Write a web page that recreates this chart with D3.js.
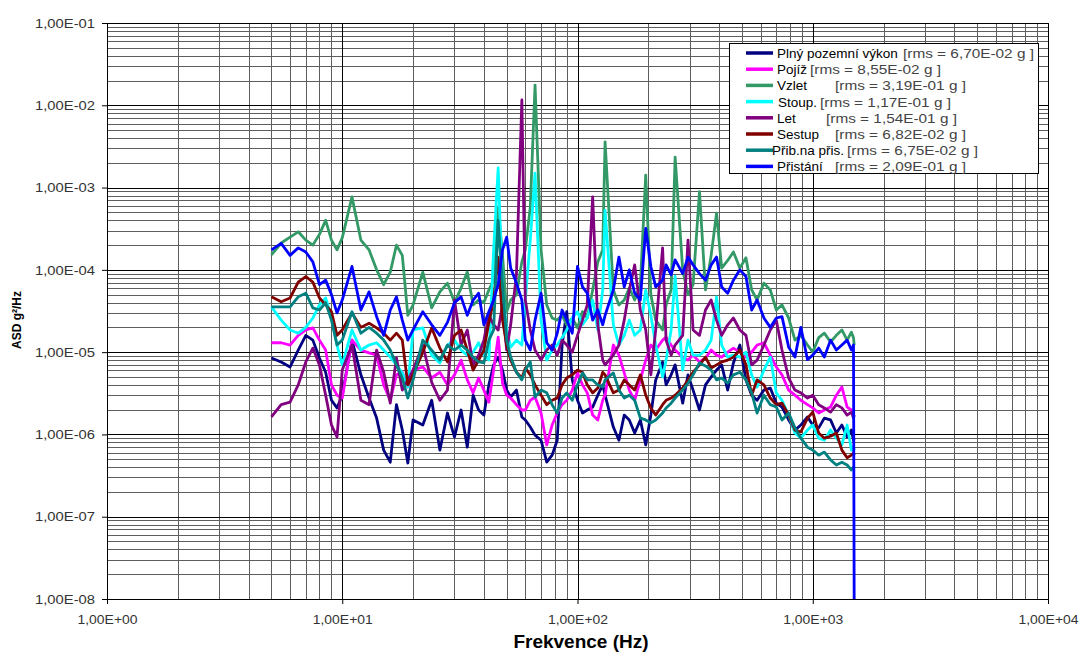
<!DOCTYPE html>
<html>
<head>
<meta charset="utf-8">
<script src="https://cdn.jsdelivr.net/npm/d3@7"></script>
<style>
  body { margin: 0; background: #fff; }
  svg { display: block; }
</style>
</head>
<body>
<svg id="chart" width="1082" height="653"></svg>
<script>
// Frequency points (Hz), shared by every flight phase
const frequencies = [5,5.5,6,6.5,7,7.5,8,8.5,9,9.5,
  10,11,12,13,14,15,16,17,18,19,
  20,22,24,26,28,30,32,34,36,38,
  40,42,44,46,48,50,52,55,58,60,
  63,66,70,74,78,82,86,90,95,100,
  105,110,116,122,128,131,142,150,158,166,
  175,185,195,205,215,230,238,250,260,280,
  295,310,330,350,370,390,410,435,460,490,
  520,550,580,620,660,700,740,790,840,890,
  950,1000,1060,1120,1190,1260,1330,1400,1460,1490,
  1500];

// ASD values (g^2/Hz) per flight phase
const plnyPozemniVykon = [8.5e-6,7.6e-6,6.6e-6,1.06e-5,1.6e-5,1.4e-5,8.5e-6,5.7e-6,2.6e-6,2.1e-6,
  3.0e-6,1.4e-5,5.3e-6,2.77e-6,1.58e-6,6.45e-7,4.6e-7,2.3e-6,1.13e-6,4.5e-7,
  1.5e-6,1.3e-6,2.6e-6,6.45e-7,1.82e-6,9.3e-7,1.98e-6,7.0e-7,3.0e-6,1.98e-6,
  1.72e-6,4.0e-6,7.0e-6,8.7e-6,6.05e-6,3.46e-6,2.85e-6,3.46e-6,1.63e-6,1.5e-6,
  1.23e-6,9.8e-7,8.5e-7,4.6e-7,5.6e-7,8.5e-7,1.22e-5,3.1e-5,4.6e-6,2.6e-6,
  1.82e-6,1.98e-6,2.15e-6,3.0e-6,4.0e-6,3.0e-6,1.23e-6,8.5e-7,1.72e-6,1.5e-6,
  1.04e-6,1.5e-6,7.45e-7,1.72e-6,4.6e-6,7.6e-6,4.0e-6,5.3e-6,7.0e-6,2.4e-6,
  5.3e-6,3.46e-6,1.98e-6,4.0e-6,5.0e-6,6.05e-6,7.0e-6,3.46e-6,7.4e-6,1.22e-5,
  4.6e-6,3.0e-6,2.6e-6,3.46e-6,3.66e-6,2.4e-6,2.15e-6,1.5e-6,1.13e-6,1.3e-6,
  1.63e-6,1.3e-6,1.2e-6,1.58e-6,1.5e-6,1.04e-6,1.3e-6,9.3e-7,1.13e-6,8.5e-7,
  9.0e-7];

const pojiz = [1.3e-5,1.3e-5,1.22e-5,1.6e-5,1.86e-5,1.97e-5,1.4e-5,1.06e-5,4.0e-6,3.0e-6,
  2.77e-6,1.4e-5,1.06e-5,9.8e-6,9.2e-6,4.0e-6,2.6e-6,5.3e-6,5.7e-6,3.77e-6,
  6.05e-6,6.6e-6,4.85e-6,5.7e-6,4.0e-6,5.3e-6,8.0e-6,4.6e-6,3.2e-6,4.85e-6,
  3.46e-6,2.47e-6,6.05e-6,1.52e-5,4.2e-6,3.0e-6,2.77e-6,2.3e-6,1.98e-6,1.98e-6,
  2.6e-6,2.85e-6,1.82e-6,7.45e-7,1.3e-6,1.82e-6,2.3e-6,2.6e-6,3.46e-6,5.6e-6,
  4.0e-6,3.2e-6,1.72e-6,1.5e-6,2.6e-6,3.0e-6,1.22e-5,9.2e-6,5.6e-6,3.46e-6,
  2.6e-6,4.6e-6,8.0e-6,1.22e-5,1.06e-5,1.4e-5,1.52e-5,1.22e-5,1.06e-5,8.7e-6,
  8.0e-6,9.2e-6,7.6e-6,8.5e-6,1.06e-5,9.2e-6,8.7e-6,1.0e-5,1.12e-5,1.0e-5,
  8.7e-6,1.0e-5,1.22e-5,1.3e-5,9.2e-6,6.6e-6,5.3e-6,3.46e-6,3.0e-6,2.6e-6,
  2.3e-6,2.1e-6,1.82e-6,1.98e-6,2.15e-6,3.0e-6,3.77e-6,2.15e-6,1.98e-6,1.82e-6,
  1.87e-6];

const vzlet = [1.52e-4,2.12e-4,2.5e-4,2.9e-4,2.3e-4,2.0e-4,2.7e-4,4.0e-4,2.3e-4,1.75e-4,
  2.45e-4,7.7e-4,2.3e-4,1.75e-4,1.0e-4,6.6e-5,9.4e-5,2.0e-4,1.5e-4,2.8e-5,
  3.75e-5,9.4e-5,3.45e-5,5.4e-5,6.9e-5,4.0e-5,6.0e-5,9.4e-5,3.75e-5,4.3e-5,
  4.0e-5,5.7e-5,7.5e-5,5.8e-4,1.5e-4,3.1e-5,4.3e-5,5.0e-5,1.25e-4,1.75e-4,
  5.8e-4,1.76e-2,1.75e-4,3.75e-5,2.6e-5,2.45e-5,2.8e-5,2.15e-5,2.6e-5,1.97e-5,
  3.1e-5,2.6e-5,5.7e-5,1.25e-4,1.75e-4,3.6e-3,5.7e-5,3.75e-5,4.3e-5,6.0e-5,
  4.3e-5,6.6e-5,1.42e-3,5.0e-5,2.45e-5,1.86e-5,3.75e-5,5.7e-5,2.35e-3,1.0e-4,
  5.0e-5,6.6e-5,8.9e-4,5.7e-5,1.5e-4,4.9e-4,1.05e-4,1.3e-4,1.65e-4,1.05e-4,
  1.4e-4,5.7e-5,4.3e-5,6.9e-5,5.7e-5,3.25e-5,3.75e-5,2.6e-5,1.4e-5,1.6e-5,
  1.22e-5,1.0e-5,1.5e-5,1.7e-5,1.33e-5,1.6e-5,1.86e-5,1.4e-5,1.75e-5,1.5e-5,
  1.22e-5];

const stoup = [3.55e-5,2.45e-5,1.86e-5,1.7e-5,2.0e-5,2.6e-5,3.75e-5,4.55e-5,2.6e-5,1.22e-5,
  7.0e-6,1.86e-5,1.06e-5,1.22e-5,1.3e-5,1.06e-5,8.7e-6,7.0e-6,5.6e-6,3.77e-6,
  1.86e-5,1.97e-5,9.2e-6,7.4e-6,1.22e-5,1.4e-5,1.06e-5,9.2e-6,1.0e-5,1.3e-5,
  9.2e-6,8.0e-6,1.75e-4,1.73e-3,5.7e-5,1.86e-5,1.15e-5,1.4e-5,1.22e-5,4.3e-5,
  2.3e-4,1.5e-3,2.45e-5,8.0e-6,1.06e-5,1.22e-5,1.5e-5,1.86e-5,2.6e-5,3.1e-5,
  2.15e-5,2.6e-5,4.3e-5,1.86e-5,5.7e-5,5.3e-4,2.15e-5,1.22e-5,1.6e-5,2.45e-5,
  1.6e-5,1.86e-5,5.7e-5,2.8e-5,1.22e-5,5.0e-6,8.0e-6,1.86e-5,8.3e-5,6.05e-6,
  1.4e-5,9.2e-6,9.2e-6,1.06e-5,1.4e-5,4.7e-5,1.22e-5,8.7e-6,9.2e-6,8.7e-6,
  1.0e-5,5.3e-6,3.77e-6,6.05e-6,8.7e-6,3.2e-6,2.6e-6,1.72e-6,1.04e-6,9.0e-7,
  1.13e-6,1.3e-6,9.0e-7,8.5e-7,1.13e-6,9.0e-7,7.45e-7,1.3e-6,6.45e-7,7.0e-7,
  6.45e-7];

const letPhase = [1.63e-6,2.3e-6,2.47e-6,4.0e-6,7.6e-6,1.12e-5,7.0e-6,3.0e-6,1.3e-6,9.3e-7,
  6.05e-6,1.22e-5,2.6e-6,2.3e-6,1.06e-5,5.7e-6,2.4e-6,8.5e-6,3.46e-6,4.6e-6,
  6.05e-6,1.22e-5,4.3e-6,2.6e-6,3.46e-6,4.3e-5,1.22e-5,1.86e-5,7.0e-6,9.2e-6,
  1.4e-5,2.8e-5,2.15e-5,1.86e-5,3.75e-5,1.06e-5,2.15e-5,8.7e-5,1.16e-2,4.3e-5,
  1.86e-5,1.06e-5,8.0e-6,1.06e-5,1.22e-5,9.2e-6,1.4e-5,1.22e-5,1.0e-5,1.6e-5,
  2.45e-5,3.75e-5,7.7e-4,2.15e-5,8.0e-6,7.0e-6,9.2e-6,1.22e-5,2.45e-5,5.7e-5,
  1.15e-4,3.25e-5,1.86e-5,5.3e-6,1.86e-5,1.85e-4,1.4e-5,9.2e-6,1.22e-5,1.6e-5,
  2.3e-4,1.86e-5,1.6e-5,3.25e-5,4.3e-5,2.45e-5,1.6e-5,2.15e-5,2.6e-5,1.86e-5,
  1.6e-5,7.0e-6,8.0e-6,1.22e-5,1.86e-5,2.45e-5,1.06e-5,4.85e-6,3.46e-6,3.2e-6,
  2.77e-6,3.0e-6,2.3e-6,2.1e-6,1.87e-6,2.3e-6,2.1e-6,1.72e-6,1.87e-6,1.58e-6,
  1.72e-6];

const sestup = [4.7e-5,4.1e-5,4.55e-5,7.1e-5,8.3e-5,7.1e-5,4.55e-5,3.75e-5,3.1e-5,1.6e-5,
  1.86e-5,3.0e-5,2.0e-5,2.25e-5,1.97e-5,1.7e-5,1.4e-5,1.7e-5,1.4e-5,4.0e-6,
  5.3e-6,1.0e-5,1.97e-5,1.12e-5,7.6e-6,1.6e-5,1.86e-5,1.06e-5,6.05e-6,8.0e-6,
  1.06e-5,2.3e-5,4.3e-5,1.43e-4,2.45e-5,1.22e-5,8.0e-6,5.7e-6,4.85e-6,6.4e-6,
  5.3e-6,4.0e-6,3.0e-6,2.3e-6,2.6e-6,2.77e-6,4.0e-6,4.85e-6,5.3e-6,6.05e-6,
  5.7e-6,4.0e-6,3.2e-6,3.66e-6,5.7e-6,5.3e-6,3.2e-6,3.46e-6,4.6e-6,4.0e-6,
  3.46e-6,5.3e-6,3.0e-6,2.1e-6,1.72e-6,2.3e-6,2.6e-6,2.77e-6,3.0e-6,3.66e-6,
  4.6e-6,5.7e-6,7.0e-6,8.7e-6,6.4e-6,7.0e-6,7.6e-6,8.0e-6,8.7e-6,1.06e-5,
  7.0e-6,3.0e-6,4.6e-6,4.0e-6,2.77e-6,2.3e-6,2.4e-6,1.72e-6,1.13e-6,1.07e-6,
  1.58e-6,1.87e-6,1.04e-6,9.0e-7,9.5e-7,1.04e-6,6.45e-7,5.2e-7,5.6e-7,5.95e-7,
  5.6e-7];

const pribNaPris = [3.55e-5,3.55e-5,3.55e-5,4.7e-5,5.2e-5,3.45e-5,3.25e-5,4.0e-5,2.45e-5,1.22e-5,
  1.4e-5,3.1e-5,1.7e-5,2.0e-5,1.7e-5,1.4e-5,1.06e-5,7.0e-6,4.85e-6,2.77e-6,
  4.6e-6,1.4e-5,1.06e-5,8.0e-6,1.22e-5,1.06e-5,1.22e-5,1.06e-5,8.7e-6,7.6e-6,
  7.4e-6,1.4e-5,1.86e-5,4.0e-4,6.6e-5,1.4e-5,8.7e-6,5.7e-6,4.6e-6,6.05e-6,
  7.6e-6,2.85e-6,3.46e-6,3.2e-6,2.3e-6,1.82e-6,2.77e-6,3.2e-6,2.6e-6,4.0e-6,
  5.6e-6,4.6e-6,4.6e-6,4.0e-6,3.77e-6,4.6e-6,5.6e-6,3.46e-6,2.77e-6,3.0e-6,
  2.6e-6,1.58e-6,1.5e-6,1.38e-6,1.5e-6,1.82e-6,2.1e-6,2.4e-6,2.77e-6,3.46e-6,
  4.2e-6,5.3e-6,7.4e-6,6.8e-6,6.05e-6,4.6e-6,4.85e-6,4.2e-6,5.3e-6,5.7e-6,
  4.6e-6,3.2e-6,1.82e-6,3.0e-6,2.3e-6,2.15e-6,1.5e-6,1.82e-6,1.2e-6,9.0e-7,
  7.0e-7,6.45e-7,5.6e-7,6.1e-7,4.9e-7,4.25e-7,4.6e-7,4.25e-7,3.7e-7,4.0e-7,
  3.9e-7];

const pristani = [1.75e-4,2.1e-4,1.5e-4,1.85e-4,1.65e-4,1.25e-4,6.6e-5,7.5e-5,5.0e-5,3.0e-5,
  4.3e-5,1.1e-4,3.25e-5,5.4e-5,2.7e-5,1.6e-5,3.25e-5,4.7e-5,2.45e-5,1.4e-5,
  1.86e-5,3.1e-5,2.15e-5,1.6e-5,2.3e-5,4.0e-5,4.7e-5,2.8e-5,4.3e-5,5.2e-5,
  2.15e-5,3.1e-5,4.3e-5,6.6e-5,1.75e-4,2.5e-4,1.05e-4,6.9e-5,4.3e-5,1.4e-5,
  1.06e-5,2.45e-5,5.2e-5,1.3e-5,1.06e-5,1.7e-5,3.25e-5,2.45e-5,1.7e-5,1.1e-4,
  6.2e-5,5.2e-5,2.45e-5,3.25e-5,2.15e-5,2.8e-5,5.7e-5,1.43e-4,6.2e-5,1.0e-4,
  5.2e-5,4.3e-5,3.2e-4,1.1e-4,6.2e-5,7.5e-5,1.15e-4,8.7e-5,1.32e-4,9.0e-5,
  1.43e-4,1.15e-4,9.0e-5,7.5e-5,1.15e-4,1.43e-4,6.2e-5,5.2e-5,7.5e-5,1.0e-4,
  8.3e-5,3.25e-5,4.3e-5,2.6e-5,2.0e-5,2.6e-5,2.7e-5,1.15e-5,8.7e-6,2.0e-5,
  8.1e-6,9.2e-6,1.12e-5,8.7e-6,1.4e-5,1.06e-5,1.22e-5,1.4e-5,1.06e-5,1.22e-5,
  1.0e-8];

const seriesNames = ["Plný pozemní výkon", "Pojíž", "Vzlet", "Stoup.", "Let", "Sestup", "Přib.na přis.", "Přistání"];
const rmsLabels = ["[rms =  6,70E-02 g ]", "[rms = 8,55E-02 g ]", "[rms = 3,19E-01 g ]", "[rms = 1,17E-01 g ]",
                   "[rms = 1,54E-01 g ]", "[rms = 6,82E-02 g ]", "[rms = 6,75E-02 g ]", "[rms = 2,09E-01 g ]"];
const seriesValues = [plnyPozemniVykon, pojiz, vzlet, stoup, letPhase, sestup, pribNaPris, pristani];

const xTickValues = [1, 10, 100, 1000, 10000];
const xTickLabels = ["1,00E+00", "1,00E+01", "1,00E+02", "1,00E+03", "1,00E+04"];
const yTickValues = [1e-1, 1e-2, 1e-3, 1e-4, 1e-5, 1e-6, 1e-7, 1e-8];
const yTickLabels = ["1,00E-01", "1,00E-02", "1,00E-03", "1,00E-04", "1,00E-05", "1,00E-06", "1,00E-07", "1,00E-08"];

// Line colours for the phases, in legend order
const seriesColors = ["#000080", "#FF00FF", "#339966", "#00FFFF", "#800080", "#800000", "#008080", "#0000FF"];

// ---------------------------------------------------------------
const FONT = "'Liberation Sans', Arial, sans-serif";
const plot = { left: 107, right: 1048, top: 23, bottom: 599 };

const x = d3.scaleLog().domain([1, 1e4]).range([plot.left, plot.right]);
const y = d3.scaleLog().domain([1e-8, 1e-1]).range([plot.bottom, plot.top]);

const svg = d3.select("#chart");

// Logarithmic grid: minor lines at 2..9 of every decade, major at decades
const gx = svg.append("g").attr("shape-rendering", "crispEdges");
const xMinor = [], yMinor = [];
for (let e = 0; e < 4; e++) for (let k = 2; k < 10; k++) xMinor.push(k * Math.pow(10, e));
for (let e = -8; e < -1; e++) for (let k = 2; k < 10; k++) yMinor.push(k * Math.pow(10, e));

gx.selectAll("line.vmin").data(xMinor).join("line")
  .attr("x1", d => Math.round(x(d)) + 0.5).attr("x2", d => Math.round(x(d)) + 0.5)
  .attr("y1", plot.top).attr("y2", plot.bottom)
  .attr("stroke", "#5e5e5e").attr("stroke-width", 1);
gx.selectAll("line.hmin").data(yMinor).join("line")
  .attr("y1", d => Math.round(y(d)) + 0.5).attr("y2", d => Math.round(y(d)) + 0.5)
  .attr("x1", plot.left).attr("x2", plot.right)
  .attr("stroke", "#5e5e5e").attr("stroke-width", 1);
gx.selectAll("line.vmaj").data(xTickValues).join("line")
  .attr("x1", d => Math.round(x(d)) + 0.5).attr("x2", d => Math.round(x(d)) + 0.5)
  .attr("y1", plot.top).attr("y2", plot.bottom)
  .attr("stroke", "#000").attr("stroke-width", 1);
gx.selectAll("line.hmaj").data(yTickValues).join("line")
  .attr("y1", d => Math.round(y(d)) + 0.5).attr("y2", d => Math.round(y(d)) + 0.5)
  .attr("x1", plot.left).attr("x2", plot.right)
  .attr("stroke", "#000").attr("stroke-width", 1);

// Axes
const xAxis = d3.axisBottom(x).tickValues(xTickValues)
  .tickFormat((d, i) => xTickLabels[i]).tickSize(5).tickSizeOuter(0).tickPadding(11);
const yAxis = d3.axisLeft(y).tickValues(yTickValues)
  .tickFormat((d, i) => yTickLabels[i]).tickSize(5).tickSizeOuter(0).tickPadding(7);

const gxAxis = svg.append("g").attr("transform", `translate(0,${plot.bottom})`).call(xAxis);
const gyAxis = svg.append("g").attr("transform", `translate(${plot.left},0)`).call(yAxis);
[gxAxis, gyAxis].forEach(g => {
  g.select(".domain").attr("stroke", "#000");
  g.selectAll(".tick line").attr("stroke", "#000");
  g.selectAll(".tick text")
    .attr("font-family", FONT).attr("font-size", 13).attr("fill", "#333")
    .attr("textLength", 60).attr("lengthAdjust", "spacingAndGlyphs");
});

// Clip the traces to the plotting area
svg.append("clipPath").attr("id", "plotClip").append("rect")
  .attr("x", plot.left).attr("y", plot.top - 2)
  .attr("width", plot.right - plot.left).attr("height", plot.bottom - plot.top + 2);

const line = d3.line()
  .x(d => x(d[0]))
  .y(d => y(Math.max(d[1], 1e-8)));

const traces = svg.append("g").attr("clip-path", "url(#plotClip)");
seriesValues.forEach((vals, i) => {
  const pts = frequencies.map((f, j) => [f, vals[j]]);
  traces.append("path")
    .datum(pts)
    .attr("d", line)
    .attr("fill", "none")
    .attr("stroke", seriesColors[i])
    .attr("stroke-width", 2.8)
    .attr("stroke-linejoin", "round");
});

// Axis titles
svg.append("text")
  .attr("transform", "translate(21,320) rotate(-90)")
  .attr("text-anchor", "middle")
  .attr("font-family", FONT).attr("font-size", 12).attr("font-weight", "bold")
  .attr("fill", "#000")
  .text("ASD g²/Hz");

svg.append("text")
  .attr("x", 581).attr("y", 648)
  .attr("text-anchor", "middle")
  .attr("font-family", FONT).attr("font-size", 19).attr("font-weight", "bold")
  .attr("fill", "#000")
  .text("Frekvence (Hz)");

// Legend
const legend = svg.append("g");
legend.append("rect")
  .attr("x", 729.5).attr("y", 43.5).attr("width", 309).attr("height", 130)
  .attr("fill", "#fff").attr("stroke", "#000").attr("stroke-width", 1);

const rowY0 = 53, rowStep = 16.2;
const nameX = [777, 777, 777, 778, 777, 777, 772, 777];
const rmsX = [903, 810, 835, 820, 826, 835, 847, 835];
seriesNames.forEach((name, i) => {
  const cy = rowY0 + i * rowStep;
  legend.append("line")
    .attr("x1", 746).attr("x2", 773).attr("y1", cy).attr("y2", cy)
    .attr("stroke", seriesColors[i]).attr("stroke-width", 3.5);
  legend.append("text")
    .attr("x", nameX[i]).attr("y", cy + 5)
    .attr("font-family", FONT).attr("font-size", 13.5).attr("fill", "#000")
    .text(name);
  legend.append("text")
    .attr("x", rmsX[i]).attr("y", cy + 5)
    .attr("font-family", FONT).attr("font-size", 13).attr("fill", "#444")
    .attr("textLength", 131).attr("lengthAdjust", "spacingAndGlyphs")
    .text(rmsLabels[i]);
});
</script>
</body>
</html>
